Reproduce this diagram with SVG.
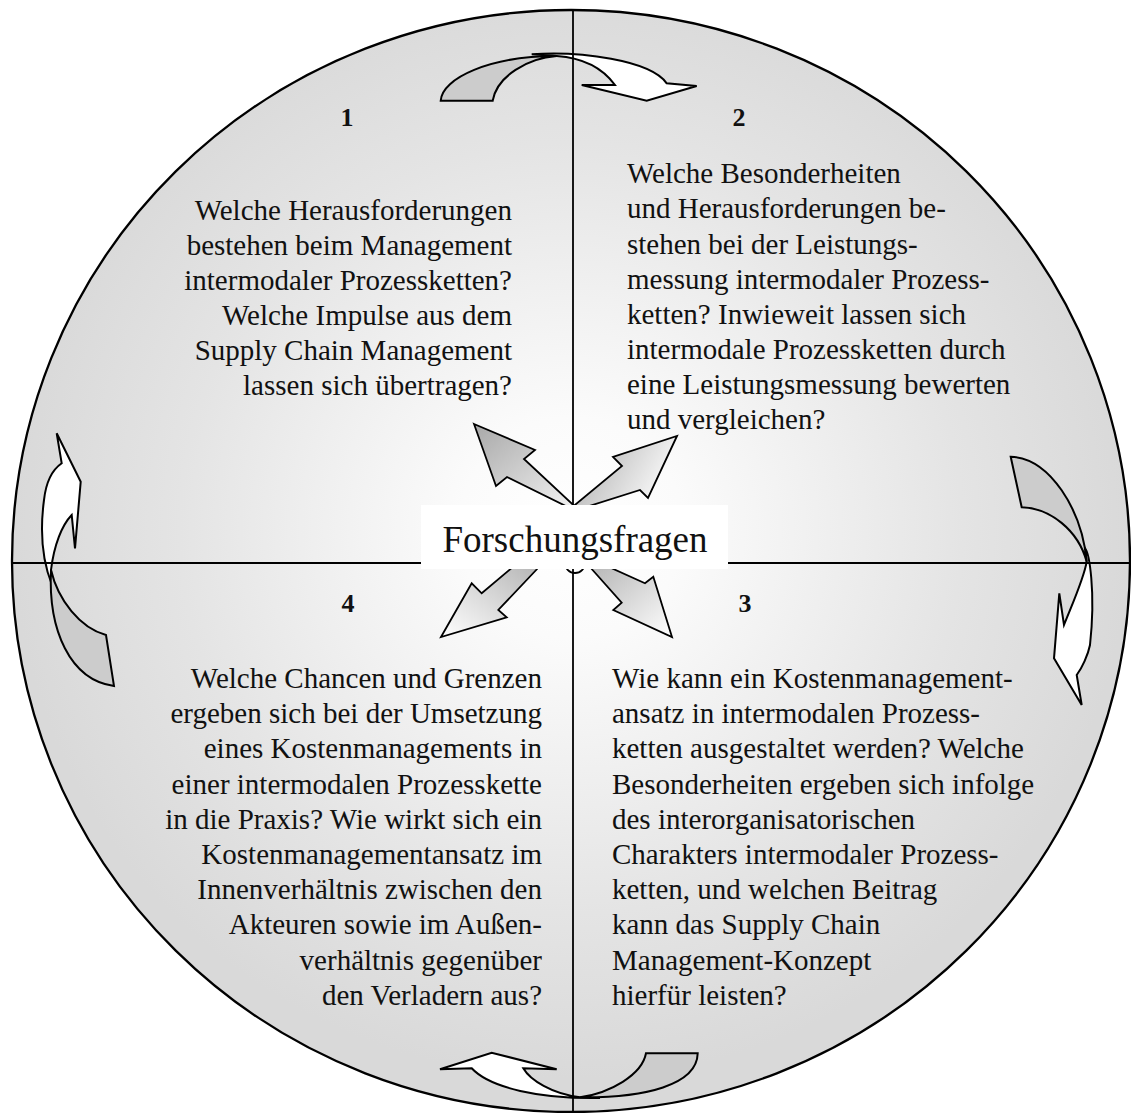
<svg xmlns="http://www.w3.org/2000/svg" width="1131" height="1113" viewBox="0 0 1131 1113">
<defs>
<radialGradient id="bg" cx="0.5" cy="0.47" r="0.5">
<stop offset="0" stop-color="#ffffff"/>
<stop offset="0.2" stop-color="#fbfbfb"/>
<stop offset="0.7" stop-color="#e4e4e4"/>
<stop offset="1" stop-color="#d9d9d9"/>
</radialGradient>
<linearGradient id="gNW" x1="0" y1="0" x2="1" y2="1"><stop offset="0" stop-color="#a8a8a8"/><stop offset="1" stop-color="#f8f8f8"/></linearGradient>
<linearGradient id="gNE" x1="0" y1="0.2" x2="1" y2="0.6"><stop offset="0" stop-color="#a8a8a8"/><stop offset="1" stop-color="#ffffff"/></linearGradient>
<linearGradient id="gSW" x1="1" y1="0" x2="0" y2="1"><stop offset="0" stop-color="#b0b0b0"/><stop offset="1" stop-color="#ffffff"/></linearGradient>
<linearGradient id="gSE" x1="0" y1="0" x2="1" y2="1"><stop offset="0" stop-color="#b0b0b0"/><stop offset="1" stop-color="#ffffff"/></linearGradient>
<style>
.o{stroke:#000;stroke-width:2;stroke-linejoin:miter}
.w{fill:#ffffff}
.g{fill:#cccccc}
.ax{stroke:#000;stroke-width:1.8;fill:none}
.ca{stroke:#000;stroke-width:1.8;stroke-linejoin:miter}
.q{font-family:"Liberation Serif","Times New Roman",serif;font-size:29px;fill:#111}
.n{font-family:"Liberation Serif","Times New Roman",serif;font-size:26px;font-weight:bold;fill:#111;text-anchor:middle}
.r{text-anchor:end}
.lbl{font-family:"Liberation Serif","Times New Roman",serif;font-size:37px;fill:#111;text-anchor:middle}
</style>
</defs>
<rect width="1131" height="1113" fill="#ffffff"/>
<g id="circle">
<ellipse cx="571" cy="561" rx="559" ry="551" fill="url(#bg)" stroke="#000" stroke-width="2.3"/>
</g>
<g id="cycle-arrows">
<g id="arrow-top">
<path class="o w" d="M531.7,54.3 C580,51 650,60 666.7,83.3 L696.7,86 L646.7,100.7 L581.7,85 L615,85 C604,70 585,58 556.7,56 Z"/>
<path class="o g" d="M440.7,100.7 C442,78 490,56 556.7,56 C528,58 497,76 492.7,100.7 Z"/>
</g>
<g id="arrow-right">
<path class="o w" d="M1085,548 C1089,553 1096,590 1090,645 C1088,655 1082,668 1076.7,675 L1081.7,705 L1054,658.3 L1059.3,593.3 L1064,625 C1074,600 1084,578 1086.7,561.7 Z"/>
<path class="o g" d="M1010.7,456.7 C1050,458 1082,510 1086.7,561.7 C1078,530 1050,508 1021.7,507.3 Z"/>
</g>
<g id="arrow-bottom">
<path class="o w" d="M600,1098 C540,1099 490,1088 471.7,1068.3 L440,1069.3 L491.7,1052.7 L556.7,1069.3 L523.3,1068.3 C530,1080 552,1094 580,1097.3 Z"/>
<path class="o g" d="M697.7,1053.3 C697,1085 645,1098 580,1097.3 C610,1093 642,1075 646,1053.3 Z"/>
</g>
<g id="arrow-left">
<path class="o w" d="M52,585 C42,560 40,530 44,500 C46,482 52,470 61.7,463.3 L56.7,433.3 L80.7,481.7 L75,548.3 L71.7,515 C62,525 54,545 51,570 Z"/>
<path class="o g" d="M51,570 C48,630 70,680 114,686 L106,635 C80,628 58,600 51,570 Z"/>
</g>
</g>
<g id="axes">
<line class="ax" x1="12" y1="563" x2="1130" y2="563"/>
<line class="ax" x1="573" y1="10" x2="573" y2="1112"/>
</g>
<g id="center-arrows">
<polygon class="ca" fill="url(#gNW)" points="474,424 535,450 524,459 584,515 507,477 496,486"/>
<polygon class="ca" fill="url(#gNE)" points="677,436 648,498 640,490 564,514 622,466 613,457"/>
<polygon class="ca" fill="url(#gSW)" points="441,637 471.7,583.3 481.7,593.3 521,560 545.6,560 498.3,610 506.7,617.3"/>
<polygon class="ca" fill="url(#gSE)" points="672,637 653.3,576.7 645,583.3 593.3,560 583.7,560 621.7,602.7 613.3,610"/>
<circle cx="575" cy="563" r="10" fill="none" stroke="#000" stroke-width="1.8"/>
</g>
<g id="center-label">
<rect x="421" y="505" width="307" height="64" fill="#ffffff"/>
<text class="lbl" x="575" y="552">Forschungsfragen</text>
</g>
<g id="q1">
<text class="n" x="347" y="126">1</text>
<text class="q r" x="512" y="220">Welche Herausforderungen</text>
<text class="q r" x="512" y="255">bestehen beim Management</text>
<text class="q r" x="512" y="290">intermodaler Prozessketten?</text>
<text class="q r" x="512" y="325">Welche Impulse aus dem</text>
<text class="q r" x="512" y="360">Supply Chain Management</text>
<text class="q r" x="512" y="395">lassen sich übertragen?</text>
</g>
<g id="q2">
<text class="n" x="739" y="126">2</text>
<text class="q" x="627" y="183">Welche Besonderheiten</text>
<text class="q" x="627" y="218">und Herausforderungen be-</text>
<text class="q" x="627" y="254">stehen bei der Leistungs-</text>
<text class="q" x="627" y="289">messung intermodaler Prozess-</text>
<text class="q" x="627" y="324">ketten? Inwieweit lassen sich</text>
<text class="q" x="627" y="359">intermodale Prozessketten durch</text>
<text class="q" x="627" y="394">eine Leistungsmessung bewerten</text>
<text class="q" x="627" y="429">und vergleichen?</text>
</g>
<g id="q3">
<text class="n" x="745" y="612">3</text>
<text class="q" x="612" y="688">Wie kann ein Kostenmanagement-</text>
<text class="q" x="612" y="723">ansatz in intermodalen Prozess-</text>
<text class="q" x="612" y="758">ketten ausgestaltet werden? Welche</text>
<text class="q" x="612" y="794">Besonderheiten ergeben sich infolge</text>
<text class="q" x="612" y="829">des interorganisatorischen</text>
<text class="q" x="612" y="864">Charakters intermodaler Prozess-</text>
<text class="q" x="612" y="899">ketten, und welchen Beitrag</text>
<text class="q" x="612" y="934">kann das Supply Chain</text>
<text class="q" x="612" y="970">Management-Konzept</text>
<text class="q" x="612" y="1005">hierfür leisten?</text>
</g>
<g id="q4">
<text class="n" x="348" y="612">4</text>
<text class="q r" x="542" y="688">Welche Chancen und Grenzen</text>
<text class="q r" x="542" y="723">ergeben sich bei der Umsetzung</text>
<text class="q r" x="542" y="758">eines Kostenmanagements in</text>
<text class="q r" x="542" y="794">einer intermodalen Prozesskette</text>
<text class="q r" x="542" y="829">in die Praxis? Wie wirkt sich ein</text>
<text class="q r" x="542" y="864">Kostenmanagementansatz im</text>
<text class="q r" x="542" y="899">Innenverhältnis zwischen den</text>
<text class="q r" x="542" y="934">Akteuren sowie im Außen-</text>
<text class="q r" x="542" y="970">verhältnis gegenüber</text>
<text class="q r" x="542" y="1005">den Verladern aus?</text>
</g>
</svg>
